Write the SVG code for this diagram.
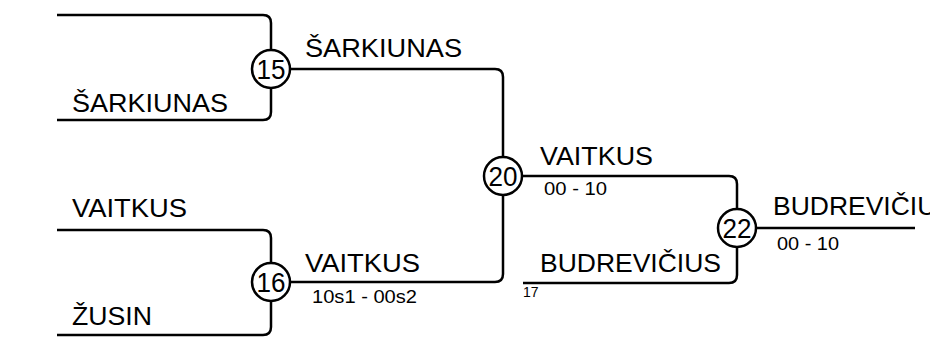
<svg xmlns="http://www.w3.org/2000/svg" width="930" height="338" viewBox="0 0 930 338">
<style>
.ln{fill:none;stroke:#000;stroke-width:2.5}
.c{fill:#fff;stroke:#000;stroke-width:2.5}
.n{font-family:"Liberation Sans",Arial,sans-serif;font-size:27px;fill:#000;text-anchor:middle}
.t{font-family:"Liberation Sans",Arial,sans-serif;font-size:26px;fill:#000}
.s{font-family:"Liberation Sans",Arial,sans-serif;font-size:19px;fill:#000}
.x{font-family:"Liberation Sans",Arial,sans-serif;font-size:14px;fill:#000}
</style>
<rect width="930" height="338" fill="#fff"/>
<g id="connectors">
<path class="ln" d="M57,15 H263 Q271,15 271,23 V49"/>
<path class="ln" d="M57,120 H263 Q271,120 271,112 V89"/>
<path class="ln" d="M291,69 H495 Q503,69 503,77 V156"/>
<path class="ln" d="M57,230 H263 Q271,230 271,238 V262"/>
<path class="ln" d="M57,335 H263 Q271,335 271,327 V302"/>
<path class="ln" d="M291,282 H495 Q503,282 503,274 V196"/>
<path class="ln" d="M523,176 H729 Q737,176 737,184 V208"/>
<path class="ln" d="M523,283 H729 Q737,283 737,275 V248"/>
<path class="ln" d="M757,228 H915"/>
</g>
<g id="labels">
<text class="t" x="72" y="112" textLength="156" lengthAdjust="spacingAndGlyphs">ŠARKIUNAS</text>
<text class="t" x="72" y="217" textLength="115" lengthAdjust="spacingAndGlyphs">VAITKUS</text>
<text class="t" x="72" y="325" textLength="80" lengthAdjust="spacingAndGlyphs">ŽUSIN</text>
<text class="t" x="305" y="57" textLength="157" lengthAdjust="spacingAndGlyphs">ŠARKIUNAS</text>
<text class="t" x="305" y="272" textLength="115" lengthAdjust="spacingAndGlyphs">VAITKUS</text>
<text class="s" x="312" y="303" textLength="105" lengthAdjust="spacingAndGlyphs">10s1 - 00s2</text>
<text class="t" x="540" y="165" textLength="113" lengthAdjust="spacingAndGlyphs">VAITKUS</text>
<text class="s" x="544" y="195" textLength="63" lengthAdjust="spacingAndGlyphs">00 - 10</text>
<text class="t" x="540" y="272" textLength="181" lengthAdjust="spacingAndGlyphs">BUDREVIČIUS</text>
<text class="x" x="523" y="297">17</text>
<text class="t" x="773" y="215" textLength="181" lengthAdjust="spacingAndGlyphs">BUDREVIČIUS</text>
<text class="s" x="777" y="250" textLength="62" lengthAdjust="spacingAndGlyphs">00 - 10</text>
</g>
<g id="m15"><circle class="c" cx="271" cy="69" r="19"/><text class="n" x="271" y="79" textLength="29" lengthAdjust="spacingAndGlyphs">15</text></g>
<g id="m16"><circle class="c" cx="271" cy="282" r="19"/><text class="n" x="271" y="292" textLength="29" lengthAdjust="spacingAndGlyphs">16</text></g>
<g id="m20"><circle class="c" cx="503" cy="176" r="19"/><text class="n" x="503" y="186" textLength="29" lengthAdjust="spacingAndGlyphs">20</text></g>
<g id="m22"><circle class="c" cx="737" cy="228" r="19"/><text class="n" x="737" y="238" textLength="29" lengthAdjust="spacingAndGlyphs">22</text></g>
</svg>
